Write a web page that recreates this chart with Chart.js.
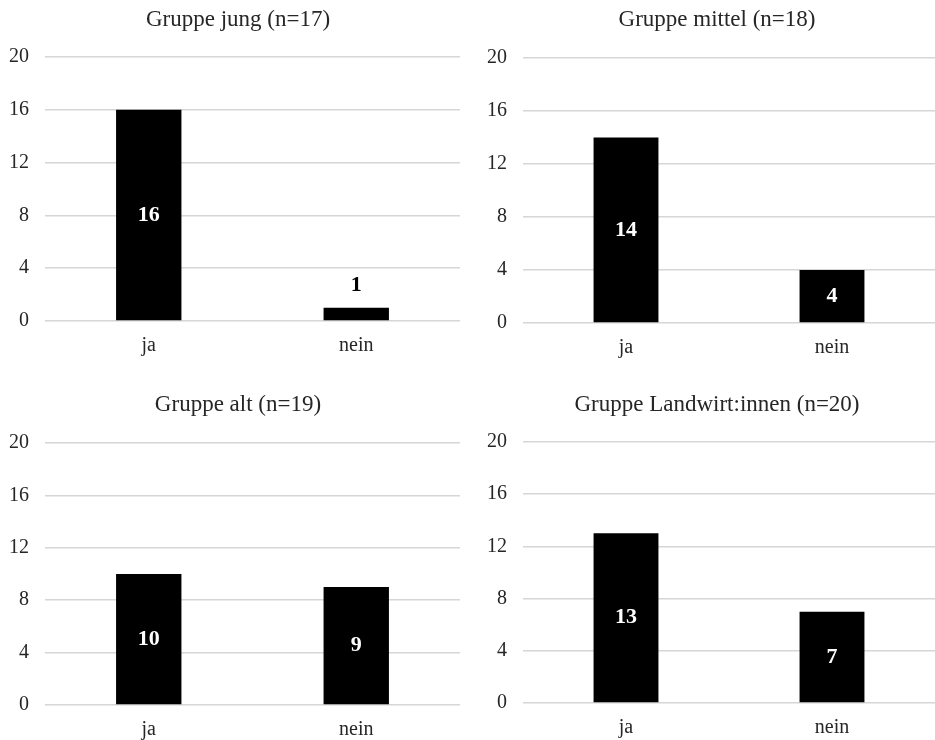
<!DOCTYPE html>
<html>
<head>
<meta charset="utf-8">
<title>Gruppen ja/nein</title>
<script src="https://cdn.jsdelivr.net/npm/chart.js@4/dist/chart.umd.min.js"></script>
<style>
  body { margin: 0; background: #fff; }
  #wrap { position: relative; width: 935px; height: 740px; overflow: hidden; }
  canvas { position: absolute; }
  .title {
    position: absolute;
    transform: translate(-50%, -50%);
    font-family: 'Liberation Serif', 'Times New Roman', serif;
    font-size: 23px;
    line-height: 1;
    color: #262626;
    white-space: nowrap;
  }
</style>
</head>
<body>
<div id="wrap">
  <canvas id="c1" width="470" height="370" style="left:0;top:0"></canvas>
  <canvas id="c2" width="468" height="370" style="left:467px;top:0"></canvas>
  <canvas id="c3" width="470" height="370" style="left:0;top:370px"></canvas>
  <canvas id="c4" width="468" height="370" style="left:467px;top:370px"></canvas>
  <div class="title" id="t1" style="left:238px;top:18px"></div>
  <div class="title" id="t2" style="left:717px;top:18px"></div>
  <div class="title" id="t3" style="left:238px;top:403px"></div>
  <div class="title" id="t4" style="left:717px;top:403px"></div>
</div>
<script>
// Data
const categories = ["ja", "nein"];
const groupTitles = ["Gruppe jung (n=17)", "Gruppe mittel (n=18)", "Gruppe alt (n=19)", "Gruppe Landwirt:innen (n=20)"];
const jungValues = [16, 1];
const mittelValues = [14, 4];
const altValues = [10, 9];
const landwirtValues = [13, 7];
const yMin = 0;
const yMax = 20;
const yStep = 4;

const serif = "'Liberation Serif', 'Times New Roman', serif";
const textColor = "#262626";
const gridColor = "#d6d6d6";

// Value labels: white inside the bar, black above it when the bar is too short
const valueLabels = {
  id: "valueLabels",
  afterDatasetsDraw(chart) {
    const ctx = chart.ctx;
    const meta = chart.getDatasetMeta(0);
    const values = chart.data.datasets[0].data;
    ctx.save();
    ctx.font = "bold 22px " + serif;
    ctx.textAlign = "center";
    ctx.textBaseline = "middle";
    meta.data.forEach((bar, i) => {
      const h = bar.base - bar.y;
      if (h > 34) {
        ctx.fillStyle = "#fff";
        ctx.fillText(values[i], bar.x, (bar.y + bar.base) / 2);
      } else {
        ctx.fillStyle = "#000";
        ctx.fillText(values[i], bar.x, bar.y - 22);
      }
    });
    ctx.restore();
  }
};

// Build one small bar chart
function makeChart(id, values, box) {
  const ctx = document.getElementById(id).getContext("2d");
  return new Chart(ctx, {
    type: "bar",
    data: {
      labels: categories,
      datasets: [{
        data: values,
        backgroundColor: "#000",
        borderWidth: 0,
        categoryPercentage: 1,
        barPercentage: 0.315
      }]
    },
    options: {
      responsive: false,
      animation: false,
      devicePixelRatio: 1,
      layout: { padding: { left: 0, right: box.padR, top: box.top, bottom: 0 } },
      plugins: {
        legend: { display: false },
        tooltip: { enabled: false },
        title: { display: false }
      },
      scales: {
        x: {
          grid: { display: false, drawTicks: false },
          border: { display: false },
          ticks: { color: textColor, font: { family: serif, size: 20 }, padding: 13 },
          afterFit: s => { s.height = box.xHeight; }
        },
        y: {
          min: yMin,
          max: yMax,
          grid: { color: gridColor, lineWidth: 1.5, drawTicks: false },
          border: { display: false },
          ticks: { stepSize: yStep, color: textColor, font: { family: serif, size: 20 }, padding: 16 },
          afterFit: s => { s.width = box.yWidth; }
        }
      }
    },
    plugins: [valueLabels]
  });
}

["t1", "t2", "t3", "t4"].forEach((id, i) => {
  document.getElementById(id).textContent = groupTitles[i];
});

makeChart("c1", jungValues, { padR: 10, yWidth: 45, top: 57, xHeight: 49 });
makeChart("c2", mittelValues, { padR: 0, yWidth: 56, top: 58, xHeight: 47 });
makeChart("c3", altValues, { padR: 10, yWidth: 45, top: 73, xHeight: 35 });
makeChart("c4", landwirtValues, { padR: 0, yWidth: 56, top: 72, xHeight: 37 });
</script>
</body>
</html>
